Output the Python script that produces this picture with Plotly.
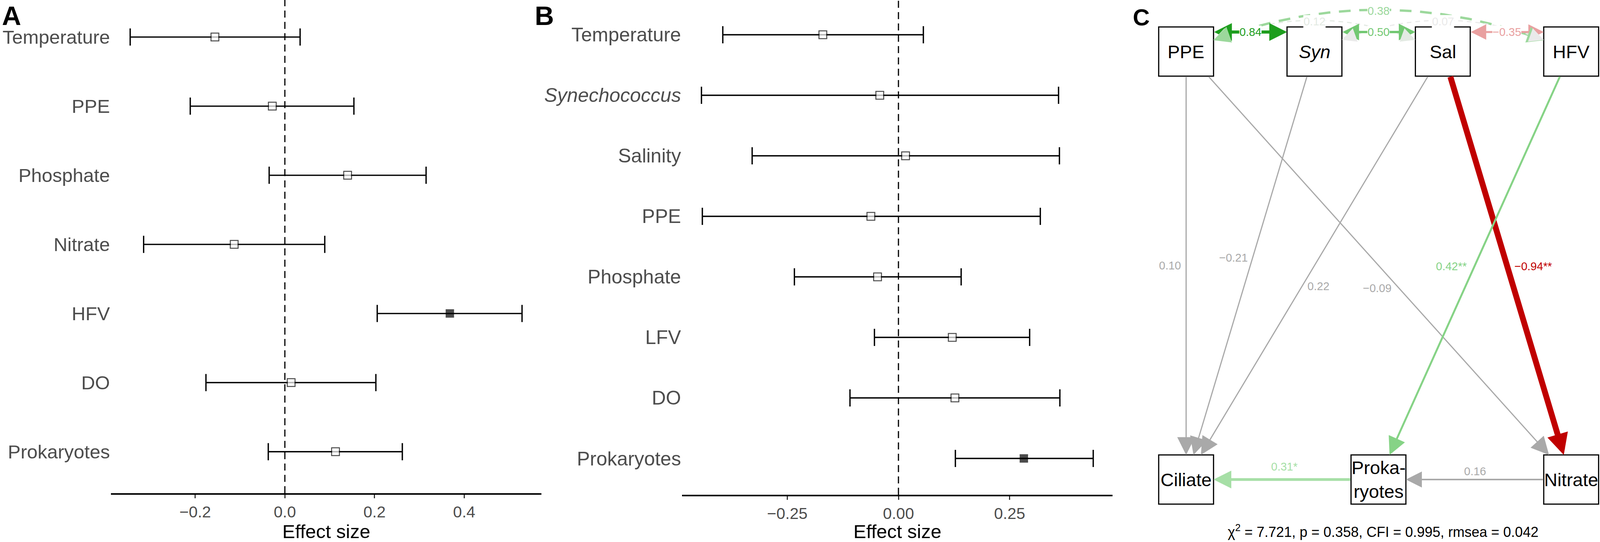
import numpy as np
import plotly.graph_objects as go

# ---------------- data ----------------
# panel A: effect sizes on ciliates
a_vars = ["Temperature", "PPE", "Phosphate", "Nitrate", "HFV", "DO", "Prokaryotes"]
a_est = [-0.156, -0.028, 0.140, -0.113, 0.368, 0.014, 0.113]
a_low = [-0.345, -0.211, -0.035, -0.315, 0.206, -0.176, -0.037]
a_high = [0.034, 0.154, 0.315, 0.089, 0.529, 0.203, 0.262]
a_sig = [False, False, False, False, True, False, False]

# panel B
b_vars = ["Temperature", "<i>Synechococcus</i>", "Salinity", "PPE", "Phosphate", "LFV", "DO", "Prokaryotes"]
b_est = [-0.170, -0.042, 0.016, -0.062, -0.047, 0.121, 0.127, 0.282]
b_low = [-0.395, -0.443, -0.329, -0.441, -0.234, -0.054, -0.109, 0.128]
b_high = [0.056, 0.360, 0.362, 0.319, 0.141, 0.295, 0.363, 0.438]
b_sig = [False, False, False, False, False, False, False, True]

# panel C: path model
nodes = ["PPE", "Syn", "Sal", "HFV", "Ciliate", "Prokaryotes", "Nitrate"]
node_labels = ["PPE", "<i>Syn</i>", "Sal", "HFV", "Ciliate", "Proka-<br>ryotes", "Nitrate"]
path_from = ["PPE", "Syn", "Sal", "PPE", "Sal", "HFV", "Nitrate", "Prokaryotes"]
path_to = ["Ciliate", "Ciliate", "Ciliate", "Nitrate", "Nitrate", "Prokaryotes", "Prokaryotes", "Ciliate"]
path_coef = ["0.10", "−0.21", "0.22", "−0.09", "−0.94**", "0.42**", "0.16", "0.31*"]
cov_a = ["PPE", "Syn", "Sal", "PPE", "PPE", "Syn"]
cov_b = ["Syn", "Sal", "HFV", "Sal", "HFV", "HFV"]
cov_coef = ["0.84", "0.50", "−0.35", "0.12", "0.38", "0.07"]
fit_text = "χ<sup>2</sup> = 7.721, p = 0.358, CFI = 0.995, rmsea = 0.042"

# ---------------- styling / layout ----------------
# positions are worked out on a 4550 x 1388 canvas; the figure is stretched to the window width
W, H = 4550, 1388
FONT = "Liberation Sans, Arial, sans-serif"
GREY_TXT = "#4D4D4D"

node_pos = {"PPE": (3373, 132), "Syn": (3738, 132), "Sal": (4103, 132), "HFV": (4468, 132),
            "Ciliate": (3373, 1228), "Prokaryotes": (3920, 1228), "Nitrate": (4468, 1228)}
HW, HH = 78, 63

GREY = "#A9A9A9"
# color, line width, head size (px), label offset from midpoint
path_style = [
    (GREY, 3, 30, (-46, 0)),
    (GREY, 3, 30, (-48, -20)),
    (GREY, 3, 30, (11, 53)),
    (GREY, 3, 30, (-4, 58)),
    ("#C00000", 15, 36, (75, 2)),
    ("#86D386", 5, 30, (-67, 2)),
    (GREY, 4, 27, (0, -21)),
    ("#A6DFA6", 7, 30, (6, -33)),
]
# color, width, dash, y offset of ends, bend height, head size
cov_style = [
    ("#1E9E1E", 8, "solid", -50, 0, 30),
    ("#72C872", 6, "solid", -50, 0, 28),
    ("#E9A0A0", 5, "solid", -50, 0, 26),
    ("#E3EAE3", 3, "12px,10px", -30, 94, 24),
    ("#9CD89C", 6, "30px,22px", -29, 150, 28),
    ("#EAEAEA", 3, "12px,10px", -30, 94, 24),
]


def forest(fig, names, est, low, high, sig, xa, ya):
    est = np.array(est)
    fig.add_trace(go.Scatter(
        x=est, y=names, mode="markers", xaxis=xa, yaxis=ya, showlegend=False,
        error_x=dict(type="data", symmetric=False, array=np.array(high) - est,
                     arrayminus=est - np.array(low), thickness=3.4, width=22, color="black"),
        marker=dict(symbol="square", size=[19 if s else 20 for s in sig],
                    color=["black" if s else "white" for s in sig],
                    line=dict(color="black", width=2.5))))


fig = go.Figure()
forest(fig, a_vars, a_est, a_low, a_high, a_sig, "x", "y")
forest(fig, b_vars, b_est, b_low, b_high, b_sig, "x2", "y2")

xcommon = dict(showline=True, linecolor="black", linewidth=4, ticks="outside", ticklen=9,
               tickwidth=3, tickcolor="#333333", showgrid=False, zeroline=False,
               tickfont=dict(size=41, color=GREY_TXT, family=FONT),
               title=dict(text="Effect size", font=dict(size=49, color="black", family=FONT), standoff=5))
ycommon = dict(type="category", showline=False, ticks="", showgrid=False, zeroline=False,
               ticklabelstandoff=2)

fig.update_layout(
    width=W, height=H, margin=dict(l=0, r=0, t=0, b=0),
    paper_bgcolor="white", plot_bgcolor="white", font=dict(family=FONT),
    xaxis=dict(domain=[316 / W, 1540 / W], range=[-0.3875, 0.5725],
               tickvals=[-0.2, 0, 0.2, 0.4], tickformat=".1f", anchor="y", **xcommon),
    yaxis=dict(domain=[1 - 1263 / H, 1], range=[6.6, -0.536], anchor="x",
               categoryorder="array", categoryarray=a_vars,
               tickfont=dict(size=49, color=GREY_TXT, family=FONT), **ycommon),
    xaxis2=dict(domain=[1940 / W, 3164 / W], range=[-0.4863, 0.4816],
                tickvals=[-0.25, 0, 0.25], tickformat=".2f", anchor="y2", **xcommon),
    yaxis2=dict(domain=[1 - 1267 / H, 1], range=[7.6, -0.574], anchor="x2",
                categoryorder="array", categoryarray=b_vars,
                tickfont=dict(size=50, color=GREY_TXT, family=FONT), **ycommon),
    xaxis3=dict(domain=[3200 / W, 1], range=[3200, W], visible=False, anchor="y3"),
    yaxis3=dict(domain=[0, 1], range=[H, 0], visible=False, anchor="x3"),
)

# zero reference lines
for xa, ya in [("x", "y"), ("x2", "y2")]:
    fig.add_shape(type="line", xref=xa, yref=ya + " domain", x0=0, x1=0, y0=0, y1=1,
                  line=dict(color="black", width=3, dash="18px,11px"))

# panel letters
for letter, px, py, size in [("A", 3, 40, 68), ("B", 1518, 40, 68), ("C", 3219, 44, 60)]:
    fig.add_annotation(text="<b>%s</b>" % letter, xref="paper", yref="paper", x=px / W, y=1 - py / H,
                       xanchor="left", yanchor="middle", showarrow=False,
                       font=dict(size=size, color="black", family=FONT))


# ---------------- panel C ----------------
def arrow(tip, tail, color, lw, head_px, both=False):
    size = max(head_px / (3.3 * lw), 0.3)
    fig.add_annotation(x=tip[0], y=tip[1], ax=tail[0], ay=tail[1], xref="x3", yref="y3",
                       axref="x3", ayref="y3", text="", showarrow=True, arrowhead=2,
                       arrowsize=size, arrowwidth=lw, arrowcolor=color, standoff=0,
                       arrowside="end+start" if both else "end",
                       startarrowhead=2, startarrowsize=size, startstandoff=0)


labels = []

# directed paths
for src, dst, coef, (col, lw, hp, off) in zip(path_from, path_to, path_coef, path_style):
    p0, p1 = np.array(node_pos[src], float), np.array(node_pos[dst], float)
    d = p1 - p0
    t = min(HW / abs(d[0]) if d[0] else 1e9, HH / abs(d[1]) if d[1] else 1e9)
    s, e = p0 + t * d, p1 - t * d
    arrow(e, s, col, lw, hp)
    m = (s + e) / 2
    labels.append((coef, m[0] + off[0], m[1] + off[1], col))

# covariances
for a, b, coef, (col, lw, dash, yoff, bend, hp) in zip(cov_a, cov_b, cov_coef, cov_style):
    xa_, ya_ = node_pos[a]
    xb_, yb_ = node_pos[b]
    p0 = np.array([xa_ + HW, ya_ + yoff], float)
    p1 = np.array([xb_ - HW, yb_ + yoff], float)
    if bend == 0:
        arrow(p1, p0, col, lw, hp, both=True)
        mid = (p0 + p1) / 2
    else:
        ctrl = (p0 + p1) / 2 - np.array([0, bend])
        u1 = (p1 - ctrl) / np.linalg.norm(p1 - ctrl)
        u0 = (p0 - ctrl) / np.linalg.norm(p0 - ctrl)
        q0, q1 = p0 - u0 * 20, p1 - u1 * 20
        tt = np.linspace(0, 1, 80)[:, None]
        pts = (1 - tt) ** 2 * q0 + 2 * (1 - tt) * tt * ctrl + tt ** 2 * q1
        fig.add_trace(go.Scatter(x=pts[:, 0], y=pts[:, 1], mode="lines", xaxis="x3", yaxis="y3",
                                 showlegend=False, hoverinfo="skip",
                                 line=dict(color=col, width=lw, dash=dash)))
        arrow(p0, p0 - u0 * 30, col, lw, hp)
        arrow(p1, p1 - u1 * 30, col, lw, hp)
        mid = 0.25 * p0 + 0.5 * ctrl + 0.25 * p1
    labels.append((coef, mid[0], mid[1], col))

for txt, x, y, col in labels:
    fig.add_annotation(text=txt, x=x, y=y, xref="x3", yref="y3", showarrow=False,
                       font=dict(size=29, color=col, family=FONT), bgcolor="white", borderpad=0)

# node boxes
for n, lab in zip(nodes, node_labels):
    cx, cy = node_pos[n]
    fig.add_shape(type="rect", xref="x3", yref="y3", x0=cx - HW, x1=cx + HW, y0=cy - HH, y1=cy + HH,
                  line=dict(color="black", width=3), fillcolor="white", layer="above")
    fig.add_annotation(text=lab, x=cx, y=cy, xref="x3", yref="y3", showarrow=False,
                       font=dict(size=47, color="black", family=FONT))

fig.add_annotation(text=fit_text, x=3933, y=1360, xref="x3", yref="y3", showarrow=False,
                   font=dict(size=36, color="black", family=FONT))

# no page margin, and fit the figure to the window
post = """
document.body.style.margin = '0';
document.body.style.overflow = 'hidden';
var gd = document.getElementById('{plot_id}');
Plotly.relayout(gd, {width: window.innerWidth, height: window.innerHeight});
"""
fig.write_html("out.html", post_script=post, config={"displayModeBar": False})
